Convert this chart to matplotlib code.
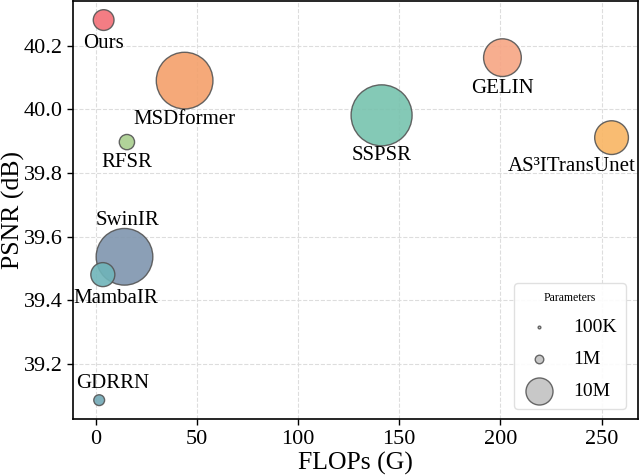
import matplotlib
matplotlib.use("Agg")
import matplotlib.pyplot as plt
import numpy as np

plt.rcParams["font.family"] = ["Liberation Serif", "DejaVu Serif"]

# -------------------------------------------------------------
# Data
# -------------------------------------------------------------
methods = ["Ours", "MSDformer", "RFSR", "SwinIR", "MambaIR",
           "GDRRN", "GELIN", "AS³ITransUnet", "SSPSR"]
flops_g = [4.0, 44.0, 15.5, 14.3, 3.6, 1.8, 201.0, 254.9, 141.3]
psnr_db = [40.28, 40.09, 39.897, 39.537, 39.481, 39.087, 40.162, 39.911, 39.981]
params_m = [5.9, 44.0, 3.2, 44.0, 7.9, 1.6, 19.5, 15.6, 51.0]
colors = ["#F36F77", "#F4A06B", "#A9CF8E", "#7F95AE", "#6FB4B9",
          "#72A9B6", "#F7A583", "#F9B563", "#77C3AE"]

# label offsets from bubble centre, in points
label_dx = [0, 0, 0, 2, 9, 10, 0, -29, 0]
label_dy = [-17, -28, -15, 26, -17.5, 12, -22, -20.5, -29]

legend_params = [0.1, 1, 10]
legend_labels = ["100K", "1M", "10M"]

SIZE_PER_M = 37.8  # points^2 per million parameters


fig = plt.figure(figsize=(6.4, 4.75), dpi=100)
ax = fig.add_axes([0.1145, 0.1173, 0.8825, 0.8807])

ax.grid(True, linestyle="--", color="#dddddd", linewidth=0.8, zorder=0)
ax.set_axisbelow(True)

sizes = np.array(params_m) * SIZE_PER_M
ax.scatter(flops_g, psnr_db, s=sizes, c=colors, edgecolors="#555555",
           linewidths=1.0, alpha=0.9, zorder=3)

for name, x, y, dx, dy in zip(methods, flops_g, psnr_db, label_dx, label_dy):
    ax.annotate(name, (x, y), xytext=(dx, dy), textcoords="offset points",
                ha="center", va="center", fontsize=15, zorder=4)

ax.set_xlim(-11, 268)
ax.set_ylim(39.027, 40.34)
ax.set_xticks([0, 50, 100, 150, 200, 250])
ax.set_yticks([39.2, 39.4, 39.6, 39.8, 40.0, 40.2])
ax.tick_params(labelsize=16, length=4, width=1)
for sp in ax.spines.values():
    sp.set_linewidth(1.2)

ax.set_xlabel("FLOPs (G)", fontsize=18.5, labelpad=2)
ax.set_ylabel("PSNR (dB)", fontsize=18.5)
ax.yaxis.set_label_coords(-0.086, 0.5)

# size legend
handles = [ax.scatter([], [], s=p * SIZE_PER_M, c="#c8c8c8",
                      edgecolors="#666666", linewidths=1.0)
           for p in legend_params]
leg = ax.legend(handles, legend_labels, title="Parameters", loc="lower right",
                fontsize=14, title_fontsize=8.5, labelspacing=0.75,
                borderpad=0.45, handlelength=1.7, handletextpad=0.9,
                framealpha=0.9, borderaxespad=0,
                bbox_to_anchor=(0.978, 0.024))
leg.get_frame().set_edgecolor("#dddddd")

fig.savefig("out.png", dpi=100)
